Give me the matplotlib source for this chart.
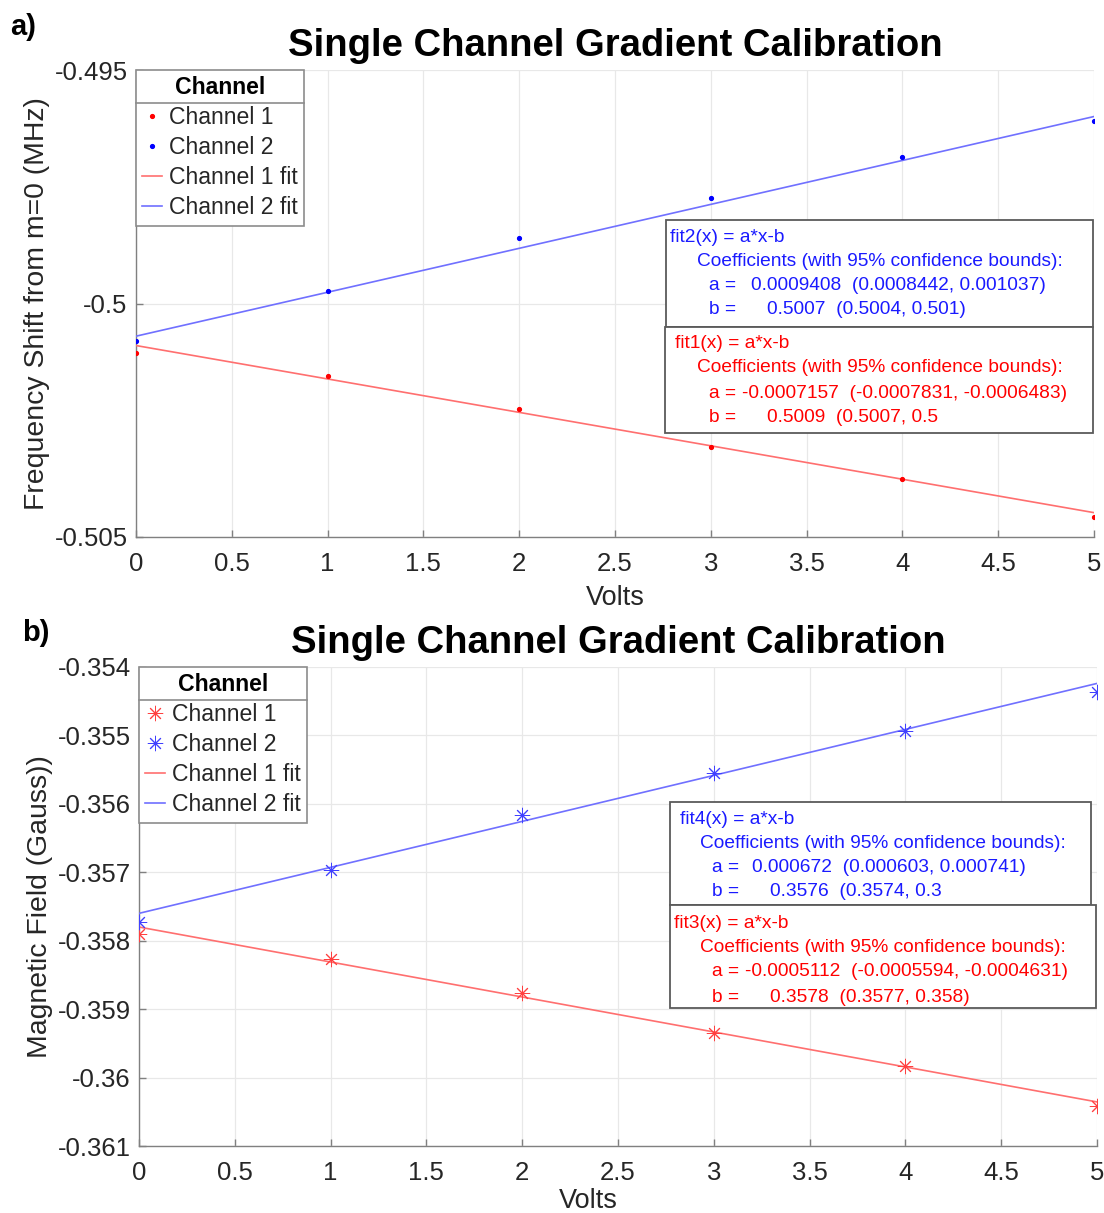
import numpy as np
import matplotlib
matplotlib.use("Agg")
import matplotlib.pyplot as plt
from matplotlib.patches import Rectangle
from matplotlib.lines import Line2D

plt.rcParams['font.family'] = ['Liberation Sans', 'DejaVu Sans']

# ---------------- data ----------------
volts = [0, 1, 2, 3, 4, 5]

# panel a: frequency shift (MHz)
freq_ch1 = [-0.50106, -0.50155, -0.50226, -0.50307, -0.50376, -0.50457]
freq_ch2 = [-0.50080, -0.49973, -0.49860, -0.49774, -0.49686, -0.49609]
fit1_a, fit1_b = -0.0007157, 0.5009
fit2_a, fit2_b = 0.0009408, 0.5007

# panel b: magnetic field (Gauss)
field_ch1 = [-0.357904, -0.358269, -0.358766, -0.359351, -0.359833, -0.360418]
field_ch2 = [-0.357728, -0.356968, -0.356164, -0.355550, -0.354936, -0.354365]
fit3_a, fit3_b = -0.0005112, 0.3578
fit4_a, fit4_b = 0.000672, 0.3576

fit_x = [0, 5]

xticks = [0, 0.5, 1, 1.5, 2, 2.5, 3, 3.5, 4, 4.5, 5]
xtick_labels = ['0', '0.5', '1', '1.5', '2', '2.5', '3', '3.5', '4', '4.5', '5']
yticks_a = [-0.505, -0.5, -0.495]
ytick_labels_a = ['-0.505', '-0.5', '-0.495']
yticks_b = [-0.361, -0.360, -0.359, -0.358, -0.357, -0.356, -0.355, -0.354]
ytick_labels_b = ['-0.361', '-0.36', '-0.359', '-0.358', '-0.357', '-0.356', '-0.355', '-0.354']

title = 'Single Channel Gradient Calibration'
legend_labels = ['Channel 1', 'Channel 2', 'Channel 1 fit', 'Channel 2 fit']

box_a_blue = ['fit2(x) = a*x-b', 'Coefficients (with 95% confidence bounds):',
              'a =', '0.0009408  (0.0008442, 0.001037)', 'b =', '0.5007  (0.5004, 0.501)']
box_a_red = ['fit1(x) = a*x-b', 'Coefficients (with 95% confidence bounds):',
             'a =', '-0.0007157  (-0.0007831, -0.0006483)', 'b =', '0.5009  (0.5007, 0.5']
box_b_blue = ['fit4(x) = a*x-b', 'Coefficients (with 95% confidence bounds):',
              'a =', '0.000672  (0.000603, 0.000741)', 'b =', '0.3576  (0.3574, 0.3']
box_b_red = ['fit3(x) = a*x-b', 'Coefficients (with 95% confidence bounds):',
             'a =', '-0.0005112  (-0.0005594, -0.0004631)', 'b =', '0.3578  (0.3577, 0.358)']

# ---------------- figure ----------------
W, H = 1104, 1213
fig = plt.figure(figsize=(W / 100, H / 100), dpi=100)
fig.patch.set_facecolor('white')


def fx(x):
    return x / W


def fy(y):
    return 1 - y / H


BLUE = '#0000ff'
RED = '#ff0000'
FIT_BLUE = '#7070ff'
FIT_RED = '#ff6f6f'
AXC = '#808080'
TXT = '#262626'

ax1 = fig.add_axes([fx(136), fy(537), fx(1094) - fx(136), fy(70) - fy(537)])
ax2 = fig.add_axes([fx(139), fy(1146), fx(1097) - fx(139), fy(667) - fy(1146)])


def style_axes(ax, yticks, ylabels, ylim, ylabel, xlabel_y, xlabel_x=0.5):
    ax.set_xlim(0, 5)
    ax.set_ylim(*ylim)
    ax.set_xticks(xticks)
    ax.set_xticklabels(xtick_labels)
    ax.set_yticks(yticks)
    ax.set_yticklabels(ylabels)
    ax.grid(True, color='#e8e8e8', linewidth=0.9, zorder=0)
    ax.set_axisbelow(True)
    for s in ['top', 'right']:
        ax.spines[s].set_visible(False)
    for s in ['left', 'bottom']:
        ax.spines[s].set_color(AXC)
        ax.spines[s].set_linewidth(1.0)
    ax.tick_params(direction='in', length=5, width=1.0, color=AXC,
                   labelsize=18.5, labelcolor=TXT)
    ax.tick_params(axis='x', pad=10.5)
    ax.tick_params(axis='y', pad=6)
    ax.set_xlabel('Volts', fontsize=19.5, color=TXT)
    ax.xaxis.set_label_coords(xlabel_x, xlabel_y)
    ax.set_ylabel(ylabel, fontsize=20.4, color=TXT, labelpad=3)
    ax.set_title(title, fontsize=27.5, fontweight='bold', color='black', pad=10)


# panel a
ax1.plot(volts, freq_ch1, linestyle='none', marker='.', markersize=5.5, color=RED, label=legend_labels[0], zorder=4)
ax1.plot(volts, freq_ch2, linestyle='none', marker='.', markersize=5.5, color=BLUE, label=legend_labels[1], zorder=4)
ax1.plot(fit_x, [fit1_a * v - fit1_b for v in fit_x], color=FIT_RED, lw=1.2, label=legend_labels[2], zorder=3)
ax1.plot(fit_x, [fit2_a * v - fit2_b for v in fit_x], color=FIT_BLUE, lw=1.2, label=legend_labels[3], zorder=3)
style_axes(ax1, yticks_a, ytick_labels_a, (-0.505, -0.495), 'Frequency Shift from m=0 (MHz)',
           xlabel_y=-0.103)

# panel b
ast = (8, 2, 0)
ax2.plot(volts, field_ch1, linestyle='none', marker=ast, markersize=11, markeredgewidth=0.7,
         color='#ff4040', label=legend_labels[0], zorder=4)
ax2.plot(volts, field_ch2, linestyle='none', marker=ast, markersize=11, markeredgewidth=0.7,
         color='#4040ff', label=legend_labels[1], zorder=4)
ax2.plot(fit_x, [fit3_a * v - fit3_b for v in fit_x], color=FIT_RED, lw=1.2, label=legend_labels[2], zorder=3)
ax2.plot(fit_x, [fit4_a * v - fit4_b for v in fit_x], color=FIT_BLUE, lw=1.2, label=legend_labels[3], zorder=3)
style_axes(ax2, yticks_b, ytick_labels_b, (-0.361, -0.354), 'Magnetic Field (Gauss))',
           xlabel_y=-0.088, xlabel_x=0.469)

legs = []
for ax in (ax1, ax2):
    leg = ax.legend(loc='upper left', bbox_to_anchor=(0, 1), borderaxespad=0,
                    title='Channel', title_fontproperties={'weight': 'bold', 'size': 16.6},
                    fontsize=16.6, frameon=True, fancybox=False, edgecolor='#8c8c8c',
                    framealpha=1, handlelength=0.85, handletextpad=0.3,
                    labelspacing=0.3, borderpad=0.28, numpoints=1)
    leg.get_frame().set_linewidth(1.2)
    for t in leg.get_texts():
        t.set_color(TXT)
    legs.append(leg)

# panel labels
fig.text(fx(10), fy(27), 'a)', fontsize=21, fontweight='bold', va='center', ha='left')
fig.text(fx(22), fy(633), 'b)', fontsize=21, fontweight='bold', va='center', ha='left')


def fit_box(x0, y0, x1, y1, lines, color, xs, ys):
    rect = Rectangle((fx(x0), fy(y1)), fx(x1) - fx(x0), fy(y0) - fy(y1),
                     transform=fig.transFigure, facecolor='white', edgecolor='#5a5a5a',
                     linewidth=1.3, zorder=5)
    fig.patches.append(rect)
    for txt, x, y in zip(lines, xs, ys):
        fig.text(fx(x), fy(y), txt, fontsize=13.8, color=color, va='center', ha='left', zorder=6)


fit_box(666, 220, 1093, 327, box_a_blue, '#1a1aff',
        [670, 697, 709, 751, 709, 767], [237, 261, 285, 285, 310, 310])
fit_box(665, 327, 1093, 433, box_a_red, RED,
        [675, 697, 709, 742, 709, 767], [344, 368, 393, 393, 417, 417])
fit_box(670, 802, 1091, 905, box_b_blue, '#1a1aff',
        [680, 700, 712, 752, 712, 770], [819, 843, 867, 867, 891, 891])
fit_box(670, 905, 1096, 1008, box_b_red, RED,
        [674, 700, 712, 745, 712, 770], [924, 948, 972, 972, 997, 997])

# legend title separators
fig.canvas.draw()
renderer = fig.canvas.get_renderer()
inv = fig.transFigure.inverted()
for leg in legs:
    fb = leg.get_frame().get_window_extent(renderer)
    tb = leg.get_title().get_window_extent(renderer)
    t0 = leg.get_texts()[0].get_window_extent(renderer)
    ysep = (tb.y0 + t0.y1) / 2
    (xa, ya) = inv.transform((fb.x0, ysep))
    (xb, _) = inv.transform((fb.x1, ysep))
    fig.lines.append(Line2D([xa, xb], [ya, ya], transform=fig.transFigure,
                            color='#8c8c8c', linewidth=1.2, zorder=10))

fig.savefig('out.png', dpi=100, facecolor='white')
